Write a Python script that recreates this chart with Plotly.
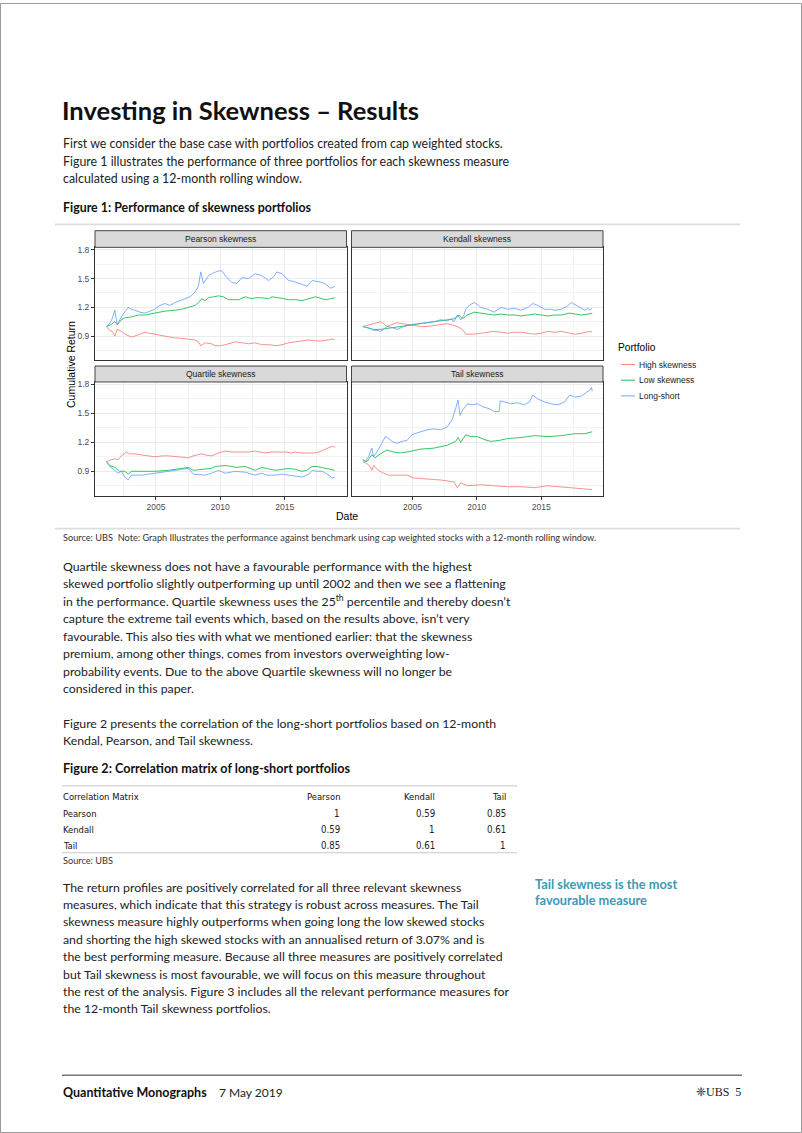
import plotly.graph_objects as go

# ---------------- data ----------------
PORTFOLIOS = ["High skewness", "Low skewness", "Long-short"]
PANELS = ["Pearson skewness", "Kendall skewness", "Quartile skewness", "Tail skewness"]
COLORS = ["#F8766D", "#00BA38", "#619CFF"]

X_TICKS = [2005, 2010, 2015]
Y_TICKS = [0.9, 1.2, 1.5, 1.8]

# Pearson
PEARSON_HIGH_X = [2001.16, 2001.4, 2001.6, 2001.81, 2001.99, 2002.32, 2002.6, 2003.1, 2003.6, 2004.14, 2004.5, 2004.92,
                  2005.4, 2005.96, 2006.5, 2006.74, 2007.52, 2008.04, 2008.3, 2008.48, 2008.82, 2009.3, 2009.6, 2010.0,
                  2010.38, 2010.8, 2011.16, 2011.7, 2012.19, 2012.7, 2013.23, 2013.8, 2014.4, 2014.79, 2015.3, 2015.83,
                  2016.35, 2016.87, 2017.4, 2017.91, 2018.4, 2018.69, 2018.9]
PEARSON_HIGH_Y = [1.00, 0.96, 0.95, 0.90, 0.97, 0.95, 0.92, 0.89, 0.91, 0.94, 0.93, 0.92,
                  0.91, 0.89, 0.88, 0.88, 0.87, 0.86, 0.84, 0.80, 0.83, 0.82, 0.80, 0.80,
                  0.81, 0.83, 0.84, 0.83, 0.82, 0.83, 0.81, 0.81, 0.80, 0.81, 0.83, 0.84,
                  0.85, 0.86, 0.85, 0.85, 0.86, 0.87, 0.86]
PEARSON_LOW_X = [2001.16, 2001.5, 2001.81, 2001.99, 2002.32, 2002.58, 2003.1, 2003.62, 2004.14, 2004.92, 2005.7, 2006.48,
                 2007.0, 2007.52, 2008.04, 2008.3, 2008.56, 2008.82, 2009.08, 2009.47, 2009.86, 2010.25, 2010.64, 2011.16,
                 2011.42, 2011.94, 2012.45, 2012.71, 2013.23, 2013.75, 2014.01, 2014.53, 2015.05, 2015.31, 2015.83,
                 2016.35, 2016.87, 2017.39, 2017.91, 2018.17, 2018.56, 2018.9]
PEARSON_LOW_Y = [1.00, 1.02, 1.05, 1.02, 1.07, 1.09, 1.10, 1.12, 1.12, 1.14, 1.16, 1.17,
                 1.18, 1.20, 1.22, 1.25, 1.29, 1.27, 1.30, 1.31, 1.32, 1.31, 1.28, 1.28,
                 1.28, 1.31, 1.29, 1.30, 1.30, 1.29, 1.31, 1.30, 1.29, 1.28, 1.28,
                 1.27, 1.29, 1.31, 1.29, 1.28, 1.29, 1.30]
PEARSON_LS_X = [2001.16, 2001.35, 2001.6, 2001.81, 2001.99, 2002.32, 2002.84, 2003.1, 2003.36, 2003.75, 2004.14, 2004.92,
                2005.31, 2005.7, 2006.09, 2006.48, 2006.87, 2007.26, 2007.65, 2008.04, 2008.3, 2008.48, 2008.69, 2009.08,
                2009.47, 2009.86, 2010.12, 2010.51, 2010.9, 2011.29, 2011.68, 2012.19, 2012.71, 2013.23, 2013.75, 2014.14,
                2014.4, 2014.79, 2015.31, 2015.7, 2016.09, 2016.74, 2017.13, 2017.52, 2017.91, 2018.3, 2018.56, 2018.9]
PEARSON_LS_Y = [1.00, 1.02, 1.08, 1.17, 1.02, 1.10, 1.20, 1.18, 1.17, 1.15, 1.14, 1.18,
                1.22, 1.24, 1.22, 1.25, 1.27, 1.29, 1.31, 1.36, 1.42, 1.57, 1.45, 1.53,
                1.56, 1.58, 1.58, 1.51, 1.46, 1.45, 1.51, 1.50, 1.55, 1.53, 1.48, 1.52,
                1.57, 1.55, 1.48, 1.47, 1.45, 1.42, 1.48, 1.47, 1.46, 1.43, 1.40, 1.42]

# Kendall
KENDALL_HIGH_X = [2001.15, 2001.6, 2001.98, 2002.5, 2002.76, 2003.02, 2003.41, 2003.8, 2004.2, 2004.58, 2005.1, 2005.63,
                  2006.15, 2006.67, 2007.19, 2007.71, 2008.23, 2008.49, 2008.88, 2009.14, 2009.79, 2010.31, 2010.83,
                  2011.35, 2011.88, 2012.4, 2012.92, 2013.44, 2013.96, 2014.48, 2015.0, 2015.52, 2016.04, 2016.56,
                  2017.21, 2017.6, 2018.13, 2018.52, 2018.78, 2018.96]
KENDALL_HIGH_Y = [1.00, 1.02, 1.03, 1.05, 1.03, 1.00, 1.02, 1.04, 1.03, 1.02, 1.01, 1.00,
                  1.00, 1.01, 1.02, 1.03, 1.01, 1.00, 0.97, 0.92, 0.92, 0.93, 0.94,
                  0.95, 0.94, 0.93, 0.94, 0.94, 0.93, 0.92, 0.93, 0.95, 0.94, 0.95,
                  0.93, 0.92, 0.93, 0.94, 0.95, 0.94]
KENDALL_LOW_X = [2001.15, 2001.5, 2001.98, 2002.5, 2003.02, 2003.8, 2004.58, 2005.3, 2006.15, 2006.9, 2007.19, 2007.71,
                 2008.23, 2008.62, 2008.88, 2009.27, 2009.79, 2010.31, 2010.83, 2011.35, 2011.88, 2012.4, 2012.92,
                 2013.44, 2013.96, 2014.48, 2015.0, 2015.52, 2016.04, 2016.56, 2017.21, 2017.6, 2018.13, 2018.65, 2018.96]
KENDALL_LOW_Y = [1.00, 0.99, 0.97, 0.97, 0.98, 0.99, 1.01, 1.02, 1.04, 1.05, 1.06, 1.07,
                 1.08, 1.12, 1.08, 1.12, 1.15, 1.14, 1.13, 1.12, 1.13, 1.12, 1.12,
                 1.11, 1.12, 1.13, 1.12, 1.11, 1.12, 1.12, 1.14, 1.13, 1.12, 1.13, 1.14]
KENDALL_LS_X = [2001.15, 2001.46, 2001.72, 2001.98, 2002.24, 2002.5, 2002.76, 2003.02, 2003.41, 2003.8, 2004.19, 2004.32,
                2004.97, 2005.63, 2006.15, 2006.67, 2007.19, 2007.71, 2008.0, 2008.23, 2008.49, 2008.75, 2009.01, 2009.14,
                2009.4, 2009.79, 2010.05, 2010.31, 2010.83, 2011.35, 2011.88, 2012.4, 2012.92, 2013.44, 2013.96, 2014.35,
                2014.74, 2015.26, 2015.78, 2016.04, 2016.56, 2017.0, 2017.34, 2017.6, 2017.86, 2018.39, 2018.65, 2018.78,
                2018.96]
KENDALL_LS_Y = [1.00, 0.99, 0.98, 0.96, 0.96, 0.95, 0.97, 1.00, 0.99, 0.97, 0.99, 1.00,
                1.02, 1.03, 1.04, 1.05, 1.07, 1.06, 1.08, 1.05, 1.12, 1.07, 1.12, 1.18,
                1.22, 1.25, 1.23, 1.20, 1.18, 1.15, 1.20, 1.18, 1.19, 1.17, 1.20, 1.24,
                1.22, 1.18, 1.18, 1.17, 1.18, 1.21, 1.25, 1.23, 1.21, 1.17, 1.19, 1.17,
                1.19]

# Quartile
QUARTILE_HIGH_X = [2001.16, 2001.42, 2001.55, 2001.81, 2002.06, 2002.32, 2002.71, 2002.97, 2003.36, 2003.88, 2004.14,
                   2004.92, 2005.5, 2005.96, 2006.74, 2007.52, 2007.91, 2008.3, 2008.56, 2008.82, 2009.34, 2009.86,
                   2010.38, 2010.9, 2011.16, 2011.7, 2012.19, 2012.71, 2013.23, 2013.49, 2014.01, 2014.5, 2015.05,
                   2015.5, 2015.83, 2016.3, 2016.87, 2017.3, 2017.65, 2018.17, 2018.69, 2018.9]
QUARTILE_HIGH_Y = [1.00, 1.01, 1.02, 1.03, 1.02, 1.06, 1.10, 1.08, 1.08, 1.07, 1.06,
                   1.05, 1.06, 1.06, 1.05, 1.04, 1.06, 1.07, 1.08, 1.07, 1.06, 1.09,
                   1.11, 1.10, 1.10, 1.10, 1.10, 1.11, 1.10, 1.09, 1.10, 1.10, 1.10,
                   1.09, 1.10, 1.09, 1.09, 1.09, 1.10, 1.13, 1.16, 1.15]
QUARTILE_LOW_X = [2001.16, 2001.42, 2001.81, 2002.19, 2002.58, 2002.84, 2003.1, 2003.88, 2004.5, 2004.92, 2005.96,
                  2006.5, 2007.0, 2007.52, 2007.91, 2008.5, 2008.82, 2009.3, 2009.6, 2010.38, 2010.9, 2011.16, 2011.94,
                  2012.3, 2012.71, 2013.23, 2013.7, 2014.27, 2014.8, 2015.31, 2015.83, 2016.35, 2016.7, 2017.13,
                  2017.5, 2017.91, 2018.4, 2018.9]
QUARTILE_LOW_Y = [1.00, 0.96, 0.94, 0.90, 0.90, 0.87, 0.90, 0.90, 0.90, 0.90, 0.91,
                  0.92, 0.93, 0.94, 0.91, 0.92, 0.92, 0.93, 0.95, 0.96, 0.95, 0.94, 0.95,
                  0.93, 0.91, 0.94, 0.93, 0.91, 0.92, 0.93, 0.92, 0.90, 0.91, 0.95,
                  0.95, 0.94, 0.93, 0.91]
QUARTILE_LS_X = [2001.16, 2001.42, 2001.81, 2002.06, 2002.32, 2002.58, 2002.84, 2003.1, 2003.88, 2004.5, 2004.92,
                 2005.96, 2006.5, 2007.0, 2007.52, 2007.91, 2008.5, 2008.82, 2009.34, 2009.86, 2010.38, 2010.9, 2011.16,
                 2011.94, 2012.4, 2012.71, 2013.23, 2013.6, 2014.27, 2014.8, 2015.31, 2015.83, 2016.35, 2016.87,
                 2017.13, 2017.5, 2017.91, 2018.43, 2018.69, 2018.9]
QUARTILE_LS_Y = [1.00, 0.95, 0.91, 0.88, 0.90, 0.84, 0.81, 0.86, 0.86, 0.87, 0.88,
                 0.90, 0.91, 0.92, 0.93, 0.87, 0.86, 0.86, 0.88, 0.91, 0.88, 0.89, 0.90,
                 0.89, 0.87, 0.86, 0.88, 0.86, 0.86, 0.87, 0.86, 0.85, 0.84, 0.87,
                 0.91, 0.90, 0.90, 0.86, 0.83, 0.84]

# Tail
TAIL_HIGH_X = [2001.15, 2001.46, 2001.72, 2001.85, 2001.98, 2002.37, 2002.76, 2003.15, 2003.8, 2004.58, 2005.1,
               2006.15, 2007.19, 2008.23, 2008.49, 2008.75, 2009.27, 2010.31, 2011.35, 2012.4, 2013.44, 2014.48,
               2015.52, 2016.56, 2017.6, 2018.39, 2018.96]
TAIL_HIGH_Y = [1.00, 0.98, 0.95, 0.91, 0.96, 0.91, 0.88, 0.86, 0.86, 0.86, 0.83,
               0.82, 0.81, 0.79, 0.73, 0.78, 0.75, 0.76, 0.75, 0.74, 0.74, 0.73,
               0.75, 0.74, 0.73, 0.72, 0.71]
TAIL_LOW_X = [2001.15, 2001.46, 2001.85, 2002.11, 2002.5, 2003.02, 2003.54, 2004.06, 2004.58, 2005.63, 2006.67,
              2007.71, 2008.36, 2008.54, 2008.75, 2009.14, 2009.53, 2010.05, 2010.57, 2011.09, 2011.74, 2012.4,
              2013.44, 2014.48, 2015.52, 2016.56, 2017.6, 2018.39, 2018.96]
TAIL_LOW_Y = [1.02, 1.00, 1.07, 1.04, 1.08, 1.12, 1.10, 1.09, 1.10, 1.13, 1.14,
              1.17, 1.21, 1.25, 1.20, 1.28, 1.26, 1.26, 1.23, 1.21, 1.22, 1.24,
              1.25, 1.27, 1.26, 1.27, 1.29, 1.29, 1.31]
TAIL_LS_X = [2001.15, 2001.33, 2001.59, 2001.85, 2001.98, 2002.24, 2002.63, 2002.89, 2003.15, 2003.41, 2003.8,
             2004.19, 2004.58, 2004.97, 2005.63, 2006.15, 2006.67, 2007.19, 2007.71, 2008.1, 2008.36, 2008.54,
             2008.7, 2008.88, 2009.27, 2009.66, 2010.05, 2010.44, 2010.96, 2011.35, 2011.74, 2011.82, 2012.14,
             2012.66, 2013.18, 2013.7, 2014.09, 2014.35, 2014.74, 2015.26, 2015.78, 2016.3, 2016.82, 2017.21,
             2017.6, 2018.13, 2018.52, 2018.78, 2018.91, 2018.96]
TAIL_LS_Y = [1.02, 1.00, 1.05, 1.14, 1.05, 1.10, 1.19, 1.26, 1.24, 1.21, 1.19,
             1.21, 1.22, 1.28, 1.31, 1.33, 1.34, 1.33, 1.36, 1.44, 1.55, 1.64,
             1.48, 1.53, 1.60, 1.59, 1.60, 1.57, 1.55, 1.52, 1.52, 1.63, 1.62,
             1.60, 1.61, 1.59, 1.62, 1.69, 1.65, 1.62, 1.60, 1.59, 1.62, 1.69,
             1.67, 1.68, 1.72, 1.74, 1.77, 1.73]

SERIES = [
    [(PEARSON_HIGH_X, PEARSON_HIGH_Y), (PEARSON_LOW_X, PEARSON_LOW_Y), (PEARSON_LS_X, PEARSON_LS_Y)],
    [(KENDALL_HIGH_X, KENDALL_HIGH_Y), (KENDALL_LOW_X, KENDALL_LOW_Y), (KENDALL_LS_X, KENDALL_LS_Y)],
    [(QUARTILE_HIGH_X, QUARTILE_HIGH_Y), (QUARTILE_LOW_X, QUARTILE_LOW_Y), (QUARTILE_LS_X, QUARTILE_LS_Y)],
    [(TAIL_HIGH_X, TAIL_HIGH_Y), (TAIL_LOW_X, TAIL_LOW_Y), (TAIL_LS_X, TAIL_LS_Y)],
]

# Correlation table
CORR_NAMES = ["Pearson", "Kendall", "Tail"]
CORR_VALUES = [[1, 0.59, 0.85],
               [0.59, 1, 0.61],
               [0.85, 0.61, 1]]

# ---------------- page text ----------------
TITLE = "Investing in Skewness – Results"
PARA1 = ["First we consider the base case with portfolios created from cap weighted stocks.",
         "Figure 1 illustrates the performance of three portfolios for each skewness measure",
         "calculated using a 12-month rolling window."]
FIG1_TITLE = "Figure 1: Performance of skewness portfolios"
FIG1_SOURCE = "Source: UBS  Note: Graph Illustrates the performance against benchmark using cap weighted stocks with a 12-month rolling window."
PARA2 = ["Quartile skewness does not have a favourable performance with the highest",
         "skewed portfolio slightly outperforming up until 2002 and then we see a flattening",
         "in the performance. Quartile skewness uses the 25<sup>th</sup> percentile and thereby doesn’t",
         "capture the extreme tail events which, based on the results above, isn’t very",
         "favourable. This also ties with what we mentioned earlier: that the skewness",
         "premium, among other things, comes from investors overweighting low-",
         "probability events. Due to the above Quartile skewness will no longer be",
         "considered in this paper."]
PARA3 = ["Figure 2 presents the correlation of the long-short portfolios based on 12-month",
         "Kendal, Pearson, and Tail skewness."]
FIG2_TITLE = "Figure 2: Correlation matrix of long-short portfolios"
PARA4 = ["The return profiles are positively correlated for all three relevant skewness",
         "measures, which indicate that this strategy is robust across measures. The Tail",
         "skewness measure highly outperforms when going long the low skewed stocks",
         "and shorting the high skewed stocks with an annualised return of 3.07% and is",
         "the best performing measure. Because all three measures are positively correlated",
         "but Tail skewness is most favourable, we will focus on this measure throughout",
         "the rest of the analysis. Figure 3 includes all the relevant performance measures for",
         "the 12-month Tail skewness portfolios."]
SIDEBAR = ["Tail skewness is the most", "favourable measure"]

# ---------------- helpers ----------------
W, H = 802, 1133
BODY = "Lato, Open Sans, sans-serif"
COND = "Liberation Sans Narrow, DejaVu Sans Condensed, sans-serif"
CHART = "Liberation Sans, Arial, sans-serif"


def px(x):
    return x / W


def py(y):
    return 1 - y / H


annotations = []
shapes = []


def text(x, y, s, size, color="#1a1a1a", family=BODY, anchor="left", angle=0):
    annotations.append(dict(xref="paper", yref="paper", x=px(x), y=py(y), text=s, showarrow=False,
                            xanchor=anchor, yanchor="middle", textangle=angle, borderpad=0,
                            font=dict(size=size, color=color, family=family)))


def hline(x0, x1, y, color, width):
    shapes.append(dict(type="line", xref="paper", yref="paper", x0=px(x0), x1=px(x1), y0=py(y), y1=py(y),
                       line=dict(color=color, width=width)))


fig = go.Figure()

# ---------------- chart ----------------
COL_X = [[95 / W, 346.5 / W], [351.5 / W, 603 / W]]
ROW_Y = [[py(358.3), py(245)], [py(494), py(380)]]
STRIP_TOP = [228.3, 364]
STRIP_BOT = [245, 380]
X_RANGE = [2000.27, 2019.8]
Y_RANGE = [0.647, 1.826]

for p, panel in enumerate(PANELS):
    row, col = divmod(p, 2)
    sfx = "" if p == 0 else str(p + 1)
    for k, name in enumerate(PORTFOLIOS):
        xs, ys = SERIES[p][k]
        fig.add_trace(go.Scatter(x=xs, y=ys, mode="lines", name=name, showlegend=False,
                                 line=dict(color=COLORS[k], width=0.8),
                                 xaxis="x" + sfx, yaxis="y" + sfx))
    bottom = row == 1
    left = col == 0
    fig.layout["xaxis" + sfx] = dict(
        domain=COL_X[col], anchor="y" + sfx, range=X_RANGE, tickmode="array", tickvals=X_TICKS,
        showticklabels=bottom, ticks="outside" if bottom else "", ticklen=3, tickwidth=0.8, tickcolor="#333333",
        tickfont=dict(size=8.5, color="#4D4D4D", family=CHART),
        showgrid=True, gridcolor="#EBEBEB", gridwidth=0.8, zeroline=False,
        minor=dict(tickmode="array", tickvals=[2002.5, 2007.5, 2012.5, 2017.5], showgrid=True,
                   gridcolor="#F3F3F3", gridwidth=0.5),
        showline=True, mirror=True, linecolor="#333333", linewidth=0.9, fixedrange=True)
    fig.layout["yaxis" + sfx] = dict(
        domain=ROW_Y[row], anchor="x" + sfx, range=Y_RANGE, tickmode="array", tickvals=Y_TICKS,
        showticklabels=left, ticks="outside" if left else "", ticklen=3, tickwidth=0.8, tickcolor="#333333",
        tickfont=dict(size=8.5, color="#4D4D4D", family=CHART),
        showgrid=True, gridcolor="#EBEBEB", gridwidth=0.8, zeroline=False,
        minor=dict(tickmode="array", tickvals=[0.75, 1.05, 1.35, 1.65], showgrid=True,
                   gridcolor="#F3F3F3", gridwidth=0.5),
        showline=True, mirror=True, linecolor="#333333", linewidth=0.9, fixedrange=True)
    # facet strip
    x0, x1 = COL_X[col]
    shapes.append(dict(type="rect", xref="paper", yref="paper", x0=x0, x1=x1,
                       y0=py(STRIP_BOT[row]), y1=py(STRIP_TOP[row]),
                       fillcolor="#D9D9D9", line=dict(color="#333333", width=0.9)))
    text((x0 + x1) / 2 * W, (STRIP_TOP[row] + STRIP_BOT[row]) / 2, panel, 8.5, "#1A1A1A", CHART, "center")

# axis titles
text(71, 363, "Cumulative Return", 10.5, "#000000", CHART, "center", -90)
text(347, 514, "Date", 10.5, "#000000", CHART, "center")

# legend
text(617, 345, "Portfolio", 10.2, "#000000", CHART)
for k, name in enumerate(PORTFOLIOS):
    yy = 362.5 + 15.7 * k
    shapes.append(dict(type="line", xref="paper", yref="paper", x0=px(621), x1=px(635), y0=py(yy), y1=py(yy),
                       line=dict(color=COLORS[k], width=0.9)))
    text(638, yy, name, 8.5, "#1A1A1A", CHART)

# ---------------- page furniture ----------------
shapes.append(dict(type="rect", xref="paper", yref="paper", x0=px(0.5), x1=px(801.5), y0=py(1132.5), y1=py(0.5),
                   line=dict(color="#9A9A9A", width=1)))

text(61, 107.5, "<b>" + TITLE + "</b>", 25.5, "#111111")
for i, line in enumerate(PARA1):
    text(62, 141 + 17.7 * i, line, 12.4, "#222222")
text(62, 205.5, "<b>" + FIG1_TITLE + "</b>", 12.4, "#111111")
hline(55, 740, 222, "#DDDDDD", 1.6)
hline(55, 740, 527, "#DDDDDD", 1.6)
text(62, 535.5, FIG1_SOURCE, 9.2, "#333333")

for i, line in enumerate(PARA2):
    text(62, 564.5 + 17.6 * i, line, 12.3, "#222222")
for i, line in enumerate(PARA3):
    text(62, 722 + 17.6 * i, line, 12.3, "#222222")

text(62, 768, "<b>" + FIG2_TITLE + "</b>", 12.6, "#111111")
hline(62, 517, 785, "#C8C8C8", 1)
hline(62, 517, 852, "#C8C8C8", 1)
COL_RIGHT = [341, 436, 507]
text(62, 796, "Correlation Matrix", 9.4, "#111111", COND)
for j, nm in enumerate(CORR_NAMES):
    text(COL_RIGHT[j], 796, nm, 9.4, "#111111", COND, "right")
for i, nm in enumerate(CORR_NAMES):
    yy = 812.5 + 16.3 * i
    text(62, yy, nm, 9.4, "#111111", COND)
    for j, v in enumerate(CORR_VALUES[i]):
        text(COL_RIGHT[j], yy, f"{v:g}", 9.6, "#222222", COND, "right")
text(62, 860, "Source: UBS", 9.2, "#333333")

for i, line in enumerate(PARA4):
    text(62, 886.5 + 17.45 * i, line, 12.3, "#222222")
for i, line in enumerate(SIDEBAR):
    text(534, 883.5 + 15.5 * i, "<b>" + line + "</b>", 12.8, "#3A9AB5")

hline(62, 742, 1075, "#333333", 1)
text(62, 1092, "<b>Quantitative Monographs</b>", 12.5, "#111111")
text(218, 1092, "7 May 2019", 12, "#222222")
text(742, 1092, "❈UBS  5", 12, "#222222", "Liberation Serif, DejaVu Serif, serif", "right")

fig.update_layout(width=W, height=H, margin=dict(l=0, r=0, t=0, b=0),
                  paper_bgcolor="white", plot_bgcolor="white", showlegend=False,
                  annotations=annotations, shapes=shapes)

fig.write_html("out.html", config={"displayModeBar": False},
               post_script="document.body.style.margin='0px';document.body.style.padding='0px';")
